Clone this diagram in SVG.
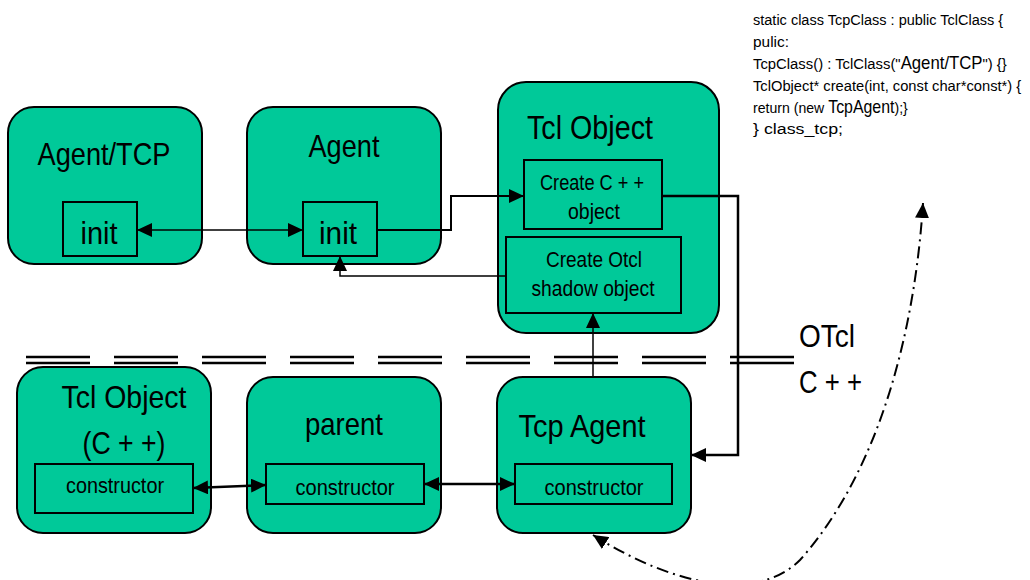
<svg xmlns="http://www.w3.org/2000/svg" width="1030" height="580" viewBox="0 0 1030 580">
<style>
text{font-family:"Liberation Sans",Arial,sans-serif;fill:#000;text-anchor:middle}
.node{fill:#00C999;stroke:#000;stroke-width:2}
.box{fill:#00C999;stroke:#000;stroke-width:2}
.t1{font-size:32px}
.t2{font-size:22px}
.t3{font-size:32px}
.code{font-size:15.5px;text-anchor:start}
.big{font-size:17.5px}
.c{fill:none;stroke:#000}
</style>
<defs>
<marker id="ah" markerUnits="userSpaceOnUse" markerWidth="16" markerHeight="14" refX="15" refY="7" orient="auto-start-reverse" viewBox="0 0 16 14">
<path d="M0,0 L15,7 L0,14 z" fill="#000"/>
</marker>
</defs>
<rect width="1030" height="580" fill="#fff"/>
<g id="code" transform="translate(753 0) scale(0.9 1)">
<text class="code" x="0" y="25" textLength="278" lengthAdjust="spacingAndGlyphs">static class TcpClass : public TclClass {</text>
<text class="code" x="0" y="47" textLength="40" lengthAdjust="spacingAndGlyphs">pulic:</text>
<text class="code" x="0" y="69" textLength="282" lengthAdjust="spacingAndGlyphs">TcpClass() : TclClass("<tspan class="big">Agent/TCP</tspan>") {}</text>
<text class="code" x="0" y="91" textLength="298" lengthAdjust="spacingAndGlyphs">TclObject* create(int, const char*const*) {</text>
<text class="code" x="0" y="113" textLength="172" lengthAdjust="spacingAndGlyphs">return (new <tspan class="big">TcpAgent</tspan>);}</text>
<text class="code" x="0" y="134" textLength="100" lengthAdjust="spacingAndGlyphs">} class_tcp;</text>
</g>
<g id="separator">
<line x1="26" y1="357" x2="794" y2="357" stroke="#000" stroke-width="2.5" stroke-dasharray="64 24"/>
<line x1="26" y1="363" x2="794" y2="363" stroke="#000" stroke-width="2.5" stroke-dasharray="64 24"/>
<text class="t1" x="799" y="347" style="text-anchor:start" textLength="56" lengthAdjust="spacingAndGlyphs">OTcl</text>
<text class="t1" x="799" y="393" style="text-anchor:start" textLength="63" lengthAdjust="spacingAndGlyphs">C + +</text>
</g>
<g id="agent-tcp">
<rect class="node" x="8" y="107" width="194" height="157" rx="26"/>
<text class="t1" x="104" y="165" textLength="133" lengthAdjust="spacingAndGlyphs">Agent/TCP</text>
<rect class="box" x="63" y="202" width="74" height="54"/>
<text class="t3" x="99" y="244" textLength="37" lengthAdjust="spacingAndGlyphs">init</text>
</g>
<g id="agent">
<rect class="node" x="247" y="107" width="194" height="157" rx="26"/>
<text class="t1" x="344" y="157" textLength="71" lengthAdjust="spacingAndGlyphs">Agent</text>
<rect class="box" x="303" y="202" width="74" height="54"/>
<text class="t3" x="338" y="244" textLength="38" lengthAdjust="spacingAndGlyphs">init</text>
</g>
<g id="tcl-object">
<rect class="node" x="498" y="82" width="221" height="251" rx="28"/>
<text class="t1" x="590" y="139" style="font-size:34px" textLength="126" lengthAdjust="spacingAndGlyphs">Tcl Object</text>
<rect class="box" x="524" y="160" width="138" height="69"/>
<text class="t2" x="592" y="190" textLength="104" lengthAdjust="spacingAndGlyphs">Create C + +</text>
<text class="t2" x="594" y="219" textLength="52" lengthAdjust="spacingAndGlyphs">object</text>
<rect class="box" x="506" y="237" width="175" height="76"/>
<text class="t2" x="594" y="267" textLength="96" lengthAdjust="spacingAndGlyphs">Create Otcl</text>
<text class="t2" x="593" y="296" textLength="123" lengthAdjust="spacingAndGlyphs">shadow object</text>
</g>
<g id="tcl-object-cpp">
<rect class="node" x="17" y="367" width="194" height="166" rx="26"/>
<text class="t1" x="124" y="408" textLength="125" lengthAdjust="spacingAndGlyphs">Tcl Object</text>
<text class="t1" x="124" y="454" textLength="83" lengthAdjust="spacingAndGlyphs">(C + +)</text>
<rect class="box" x="35" y="464" width="158" height="49"/>
<text class="t2" x="115" y="493" textLength="98" lengthAdjust="spacingAndGlyphs">constructor</text>
</g>
<g id="parent">
<rect class="node" x="247" y="377" width="194" height="156" rx="26"/>
<text class="t1" x="344" y="435" textLength="78" lengthAdjust="spacingAndGlyphs">parent</text>
<rect class="box" x="266" y="464" width="158" height="40"/>
<text class="t2" x="345" y="495" textLength="99" lengthAdjust="spacingAndGlyphs">constructor</text>
</g>
<g id="tcp-agent">
<rect class="node" x="497" y="377" width="194" height="156" rx="26"/>
<text class="t1" x="582" y="437" textLength="127" lengthAdjust="spacingAndGlyphs">Tcp Agent</text>
<rect class="box" x="515" y="464" width="157" height="40"/>
<text class="t2" x="594" y="495" textLength="99" lengthAdjust="spacingAndGlyphs">constructor</text>
</g>
<g id="connectors">
<line class="c" x1="137" y1="230" x2="303" y2="230" stroke-width="1.5" marker-start="url(#ah)" marker-end="url(#ah)"/>
<polyline class="c" points="377,230 451,230 451,196 524,196" stroke-width="2" marker-end="url(#ah)"/>
<polyline class="c" points="506,276 340,276 340,256" stroke-width="1.5" marker-end="url(#ah)"/>
<polyline class="c" points="662,196 738,196 738,455 691,455" stroke-width="2.5" marker-end="url(#ah)"/>
<line class="c" x1="593" y1="377" x2="593" y2="313" stroke-width="1.5" marker-end="url(#ah)"/>
<line class="c" x1="193" y1="488" x2="266" y2="485" stroke-width="2.5" marker-start="url(#ah)" marker-end="url(#ah)"/>
<line class="c" x1="424" y1="484" x2="515" y2="484" stroke-width="2.5" marker-start="url(#ah)" marker-end="url(#ah)"/>
<path class="c" d="M593,535 C680,590 760,600 800,560 C880,470 915,330 923,203" stroke-width="2" stroke-dasharray="12 5 2 5" marker-start="url(#ah)" marker-end="url(#ah)"/>
</g>
</svg>
